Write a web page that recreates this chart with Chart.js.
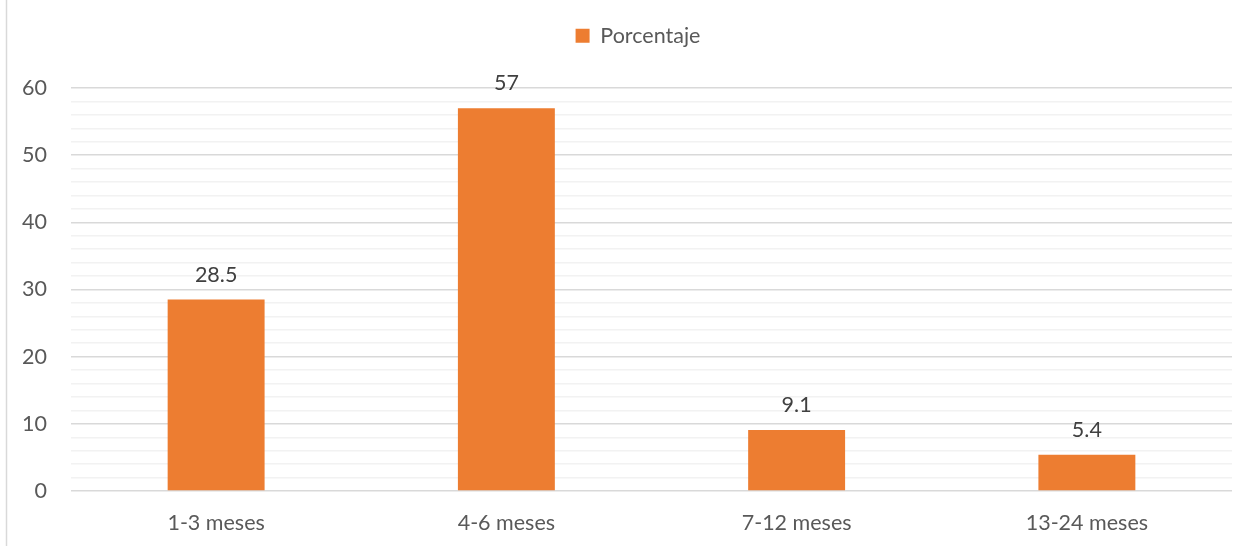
<!DOCTYPE html>
<html>
<head>
<meta charset="utf-8">
<script src="https://cdn.jsdelivr.net/npm/chart.js@4/dist/chart.umd.min.js"></script>
<style>
  html, body { margin: 0; padding: 0; background: #ffffff; }
  #wrap { position: relative; width: 1258px; height: 546px; }
</style>
</head>
<body>
<div id="wrap"><canvas id="c" width="1258" height="546"></canvas></div>
<script>
// Duración agrupada por meses y su porcentaje
const categories = ['1-3 meses', '4-6 meses', '7-12 meses', '13-24 meses'];
const porcentaje = [28.5, 57, 9.1, 5.4];
const seriesName = 'Porcentaje';
const yMax = 60;

const FONT = 'Lato, "Open Sans", sans-serif';
const FONT_SIZE = 21.5;
const ORANGE = '#ED7D31';
const TOP_PAD = 19;
const PLOT_TOP = 88;

// Values printed above each bar
const valueLabels = {
  id: 'valueLabels',
  afterDatasetsDraw(chart) {
    const ctx = chart.ctx;
    const meta = chart.getDatasetMeta(0);
    ctx.save();
    ctx.font = FONT_SIZE + 'px ' + FONT;
    ctx.fillStyle = '#404040';
    ctx.textAlign = 'center';
    ctx.textBaseline = 'alphabetic';
    meta.data.forEach((bar, i) => {
      ctx.fillText(String(porcentaje[i]), bar.x, bar.y - 18);
    });
    ctx.restore();
  }
};

// Thin frame line along the left side of the chart
const frame = {
  id: 'frame',
  beforeDraw(chart) {
    const ctx = chart.ctx;
    ctx.save();
    ctx.strokeStyle = '#d9d9d9';
    ctx.lineWidth = 1.5;
    ctx.beginPath();
    ctx.moveTo(6.5, 0);
    ctx.lineTo(6.5, chart.height);
    ctx.stroke();
    ctx.restore();
  }
};

// Leave a gap between the legend and the plot area, and centre it on the page
const legendPlacement = {
  id: 'legendPlacement',
  beforeInit(chart) {
    const legend = chart.legend;
    const fit = legend.fit;
    legend.fit = function () {
      fit.call(this);
      this.height = PLOT_TOP - TOP_PAD;
    };
    const draw = legend.draw;
    legend.draw = function () {
      const ctx = this.ctx;
      ctx.save();
      ctx.translate(22, 0);
      draw.call(this);
      ctx.restore();
    };
  }
};

new Chart(document.getElementById('c'), {
  type: 'bar',
  data: {
    labels: categories,
    datasets: [{
      label: seriesName,
      data: porcentaje,
      backgroundColor: ORANGE,
      borderWidth: 0,
      categoryPercentage: 1,
      barPercentage: 0.334
    }]
  },
  options: {
    responsive: false,
    animation: false,
    layout: { padding: { left: 0, right: 26, top: TOP_PAD, bottom: 0 } },
    plugins: {
      legend: {
        display: true,
        position: 'top',
        labels: {
          font: { family: FONT, size: FONT_SIZE },
          color: '#595959',
          boxWidth: 14,
          boxHeight: 14,
          padding: 6
        }
      },
      tooltip: { enabled: false }
    },
    scales: {
      x: {
        grid: { display: false, drawTicks: false },
        border: { display: false },
        ticks: {
          font: { family: FONT, size: FONT_SIZE },
          color: '#595959',
          padding: 19
        },
        afterFit(scale) { scale.height = 55; }
      },
      y: {
        min: 0,
        max: yMax,
        border: { display: false },
        grid: {
          drawTicks: false,
          color: ctx => (ctx.tick && ctx.tick.value % 10 === 0) ? '#d9d9d9' : '#f2f2f2',
          lineWidth: 1.5
        },
        ticks: {
          stepSize: 2,
          autoSkip: false,
          font: { family: FONT, size: FONT_SIZE },
          color: '#595959',
          padding: 24,
          callback: v => (v % 10 === 0 ? String(v) : '')
        },
        afterFit(scale) { scale.width = 71; }
      }
    }
  },
  plugins: [valueLabels, frame, legendPlacement]
});
</script>
</body>
</html>
